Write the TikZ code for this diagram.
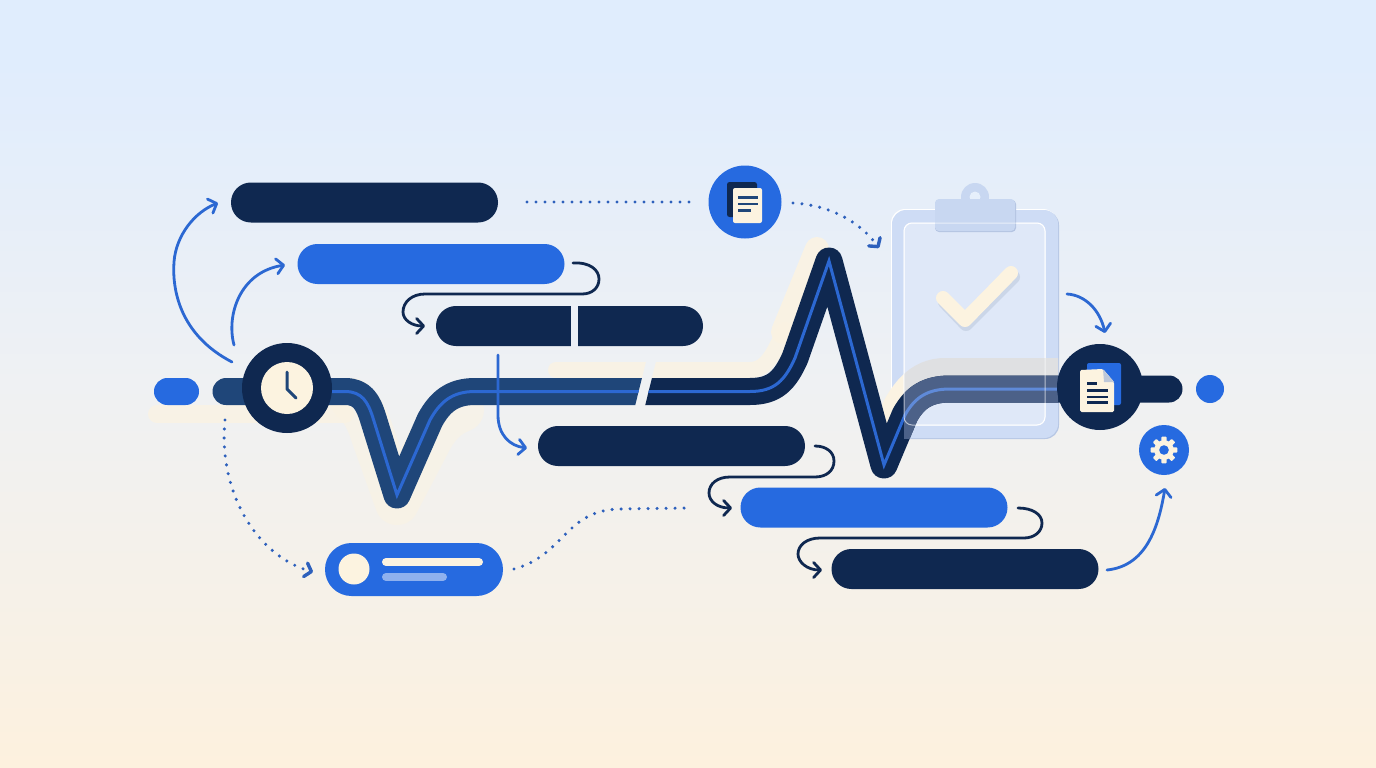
\documentclass[tikz,border=0pt]{standalone}
\usepackage{tikz}
\usetikzlibrary{arrows.meta,calc}

\definecolor{navy}{HTML}{0F2850}
\definecolor{navysoft}{HTML}{1F4679}
\definecolor{royal}{HTML}{266AE0}
\definecolor{wire}{HTML}{2C68D2}
\definecolor{dotblue}{HTML}{2D60BC}
\definecolor{cream}{HTML}{FCF3E0}
\definecolor{shadowcream}{HTML}{FBF3E2}
\definecolor{framefill}{HTML}{CEDCF5}
\definecolor{framedark}{HTML}{B7C7E4}
\definecolor{panelfill}{HTML}{DFE8F8}
\definecolor{bandgrey}{HTML}{DFE0E2}
\definecolor{holefill}{HTML}{E6EFFB}
\definecolor{tabfill}{HTML}{C8D7F1}
\definecolor{tabedge}{HTML}{B4C4E2}
\definecolor{gapfill}{HTML}{ECF0F7}
\definecolor{glasstrace}{HTML}{4C6188}
\definecolor{glasswire}{HTML}{5F8AD8}
\definecolor{foldgrey}{HTML}{BEC8D9}
\definecolor{softline}{HTML}{8FB1EE}
\definecolor{checkshadow}{HTML}{CBD6E8}
\definecolor{fadeA}{HTML}{FDF1DE}
\definecolor{fadeB}{HTML}{F6F1E8}
\definecolor{fadeC}{HTML}{EFF1F3}
\definecolor{fadeD}{HTML}{E6EEF9}
\definecolor{fadeE}{HTML}{E0EDFD}

% Page background, 25bp..75bp span the picture height
\pgfdeclareverticalshading{skyfade}{100bp}{
  color(0bp)=(fadeA);
  color(25bp)=(fadeA);
  color(36bp)=(fadeB);
  color(50bp)=(fadeC);
  color(62bp)=(fadeD);
  color(71bp)=(fadeE);
  color(100bp)=(fadeE)}

\tikzset{
  bar/.style={rectangle,rounded corners=19.9pt,inner sep=0pt,outer sep=0pt,minimum width=267pt,minimum height=40pt},
  barnavy/.style={bar,fill=navy},
  barblue/.style={bar,fill=royal},
  hub/.style={circle,inner sep=0pt,outer sep=0pt},
  flow/.style={draw=wire,line width=2.8pt,line cap=round,-{Straight Barb[length=7pt,width=15pt,round]}},
  flowdark/.style={draw=navy,line width=2.8pt,line cap=round,-{Straight Barb[length=7pt,width=15pt,round]}},
  flowdots/.style={draw=dotblue,line width=3.4pt,line cap=round,dash pattern=on 0pt off 9pt},
  flowdotsarrow/.style={flowdots,-{Straight Barb[length=6pt,width=14pt,round]}},
  creamband/.style={draw=shadowcream,line cap=round,line join=round},
}

% Centre line of the pulse trace
\newcommand{\pulsepath}{(226,391.5) -- (345,391.5) .. controls (362,391.5) and (368,402) .. (373,418) -- (397,495) -- (430,420) .. controls (440,402) and (452,391.5) .. (475,391.5) -- (750,391.5) .. controls (775,391.5) and (785,380) .. (795,358) -- (829,261) -- (884,465) -- (905,415) .. controls (915,397) and (928,389) .. (950,389) -- (1169,389)}
\newcommand{\pulsewire}{(287,391.5) -- (345,391.5) .. controls (362,391.5) and (368,402) .. (373,418) -- (397,495) -- (430,420) .. controls (440,402) and (452,391.5) .. (475,391.5) -- (750,391.5) .. controls (775,391.5) and (785,380) .. (795,358) -- (829,261) -- (884,465) -- (905,415) .. controls (915,397) and (928,389) .. (950,389) -- (1100,389)}

\begin{document}
\begin{tikzpicture}[x=1pt,y=-1pt]
\useasboundingbox (0,0) rectangle (1376,768);
\shade[shading=skyfade] (0,0) rectangle (1376,768);

% Soft cream bands behind the trace
\draw[creamband,line width=18pt,opacity=.75] (157,414) -- (345,414);
\draw[creamband,line width=44pt,opacity=.55] (352,400) .. controls (362,408) and (368,420) .. (373,436) -- (397,503) -- (430,440) .. controls (438,425) and (448,415) .. (462,410);
\begin{scope}
  \clip (100,200) -- (686,200) -- (587,600) -- (100,600) -- cycle;
  \draw[creamband,line width=16pt,opacity=.8] (556,370) -- (700,370);
\end{scope}
\begin{scope}
  \clip (696,200) -- (1300,200) -- (1300,600) -- (597,600) -- cycle;
  \draw[creamband,line width=16pt,opacity=.8] (600,370) -- (750,370) .. controls (768,370) and (775,350) .. (785,330);
  \draw[creamband,line width=24pt,opacity=.9] (783,332) -- (817,249);
\end{scope}

% Clipboard body
\fill[white,rounded corners=14pt] (891,209) rectangle (1057,437);
\fill[framedark,rounded corners=14pt] (893,211) rectangle (1059,439);
\fill[framefill,rounded corners=14pt] (892,210) rectangle (1058,438);
\draw[creamband,line width=18pt] (885,420) .. controls (897,390) and (915,367) .. (945,367) -- (1000,367);
\filldraw[fill=panelfill,draw=white,line width=1pt,rounded corners=8pt] (904,223) rectangle (1045,425);
\begin{scope}
  \clip (904,200) rectangle (1058,430);
  \draw[draw=bandgrey,line width=18pt] (885,420) .. controls (897,390) and (915,367) .. (945,367) -- (1070,367);
\end{scope}

% Clip and check mark
\fill[tabfill] (975,197) circle (14);
\fill[holefill] (975,197) circle (5.5);
\fill[tabedge,rounded corners=4pt] (935,200) rectangle (1016,232);
\fill[tabfill,rounded corners=4pt] (935,199) rectangle (1015,231);
\draw[line width=14pt,draw=checkshadow,line cap=round,line join=round] (945,302) -- (966,324) -- (1013,277);
\draw[line width=14pt,draw=cream,line cap=round,line join=round] (943,298) -- (965,320) -- (1011,273);

% Pulse trace, split by a slanted gap
\begin{scope}
  \clip (100,200) -- (686,200) -- (587,600) -- (100,600) -- cycle;
  \draw[navysoft,line width=27pt,line cap=round,line join=round] \pulsepath;
  \draw[wire,line width=3pt] \pulsewire;
\end{scope}
\begin{scope}
  \clip (696,200) -- (1300,200) -- (1300,600) -- (597,600) -- cycle;
  \draw[navy,line width=27pt,line cap=round,line join=round] \pulsepath;
  \draw[wire,line width=3pt] \pulsewire;
\end{scope}

% Trace seen through the clipboard panel
\begin{scope}
  \clip (904,300) rectangle (1058,438);
  \draw[glasstrace,line width=27pt,line join=round] \pulsepath;
  \draw[glasswire,line width=3pt] \pulsewire;
\end{scope}
\draw[white,opacity=.6,line width=1pt,rounded corners=8pt] (904,223) rectangle (1045,425);

% Task bars
\node[barnavy] (taskA) at (364.5,202.5) {};
\node[barblue] (taskB) at (431,264) {};
\node[barnavy] (taskC) at (569.5,326) {};
\node[barnavy] (taskD) at (671.5,446) {};
\node[barblue] (taskE) at (874,507.5) {};
\node[barnavy] (taskF) at (965,569) {};
\fill[gapfill] (571,305) rectangle (578,347);

% End caps of the timeline
\node[barblue,rounded corners=13.4pt,minimum width=45pt,minimum height=27pt] (startcap) at (176.5,391.5) {};
\node[hub,fill=royal,minimum size=28pt] (enddot) at (1210,389) {};

% Clock hub
\node[hub,fill=navy,minimum size=90pt] (clockhub) at (287,388) {};
\node[hub,fill=cream,minimum size=52pt] (clockface) at (287,388) {};
\draw[navysoft,line width=3pt,line cap=round,line join=round] (287,372) -- (287,389) -- (296,398);

% Document badge at the top
\node[hub,fill=royal,minimum size=73pt] (docbadge) at (745,202) {};
\fill[navy,rounded corners=2.5pt] (727,182) rectangle (757,217);
\fill[cream,rounded corners=2pt] (733,188) rectangle (762,223);
\draw[navysoft,line width=2.4pt] (738,197.5) -- (758,197.5) (738,204) -- (758,204) (738,210.5) -- (751,210.5);

% File hub on the right
\node[hub,fill=navy,minimum size=86pt] (filehub) at (1100,387) {};
\fill[royal,rounded corners=2pt] (1087,363) rectangle (1121,405);
\fill[cream,rounded corners=1.5pt] (1080,370) -- (1103,369) -- (1114,382) -- (1114,412) -- (1080,412) -- cycle;
\fill[foldgrey] (1103,369.5) -- (1114,382) -- (1104,382) -- cycle;
\draw[navy,line width=2.2pt] (1087,383.5) -- (1097,383.5) (1087,390.5) -- (1108,390.5) (1087,397) -- (1108,397) (1087,402.5) -- (1108,402.5);

% Gear badge
\node[hub,fill=royal,minimum size=50pt] (gearbadge) at (1164,450) {};
\fill[cream] (gearbadge.center) circle (9.8);
\foreach \ang in {0,45,...,315}
  \fill[cream,shift={(1164,450)},rotate=\ang,rounded corners=.8pt] (-2.6,-13.4) rectangle (2.6,0);
\fill[royal] (gearbadge.center) circle (4.8);

% Status pill at the bottom
\node[barblue,rounded corners=26.4pt,minimum width=178pt,minimum height=53pt] (statuspill) at (414,569.5) {};
\node[hub,fill=cream,minimum size=31pt] (statusdot) at (354,569) {};
\draw[cream,line width=8pt,line cap=round] (386,562) -- (479,562);
\draw[softline,line width=8pt,line cap=round] (386,577) -- (443,577);

% Free ends of the connectors
\coordinate (clockupA) at (232,362);
\coordinate (clockupB) at (234,345);
\coordinate (intoA) at (218,203);
\coordinate (intoB) at (285,265);
\coordinate (outB) at (573,263);
\coordinate (intoC) at (425,326);
\coordinate (outC) at (498,355);
\coordinate (intoD) at (527,448);
\coordinate (outD) at (815,446);
\coordinate (intoE) at (732,508);
\coordinate (outE) at (1018,508);
\coordinate (intoF) at (822,570);
\coordinate (outF) at (1107,570);
\coordinate (intoGear) at (1165,488);
\coordinate (outBoard) at (1067,294);
\coordinate (intoFile) at (1105,333);
\coordinate (outA) at (527,202);
\coordinate (intoBadge) at (697,202);
\coordinate (outBadge) at (793,203);
\coordinate (intoBoard) at (879,248);
\coordinate (clockdown) at (225,420);
\coordinate (intoPill) at (313,572);
\coordinate (outPill) at (514,569);
\coordinate (towardE) at (690,508);

% Solid connectors
\draw[flow] (clockupA) .. controls (180,335) and (172,290) .. (174,262) .. controls (176,235) and (195,212) .. (intoA);
\draw[flow] (clockupB) .. controls (226,315) and (240,272) .. (intoB);
\draw[flowdark] (outB) .. controls (590,262) and (599,270) .. (599,279) .. controls (599,288) and (592,294) .. (582,294) -- (425,294) .. controls (412,294) and (403,302) .. (403,312) .. controls (403,320) and (412,326) .. (intoC);
\draw[flow] (outC) -- (498,415) .. controls (498,435) and (510,446) .. (intoD);
\draw[flowdark] (outD) .. controls (826,446) and (834,452) .. (834,461) .. controls (834,471) and (826,477) .. (815,477) -- (730,477) .. controls (717,477) and (709,484) .. (709,493) .. controls (709,501) and (717,508) .. (intoE);
\draw[flowdark] (outE) .. controls (1032,508) and (1042,514) .. (1042,523) .. controls (1042,532) and (1034,538) .. (1024,538) -- (820,538) .. controls (807,538) and (798,545) .. (798,554) .. controls (798,562) and (807,570) .. (intoF);
\draw[flow] (outF) .. controls (1145,566) and (1158,530) .. (intoGear);
\draw[flow] (outBoard) .. controls (1085,295) and (1100,310) .. (intoFile);

% Dotted connectors
\draw[flowdots] (outA) -- (intoBadge);
\draw[flowdotsarrow] (outBadge) .. controls (830,205) and (860,222) .. (intoBoard);
\draw[flowdotsarrow] (clockdown) .. controls (218,490) and (255,555) .. (intoPill);
\draw[flowdots] (outPill) .. controls (565,555) and (565,510) .. (620,509) -- (towardE);
\end{tikzpicture}
\end{document}
